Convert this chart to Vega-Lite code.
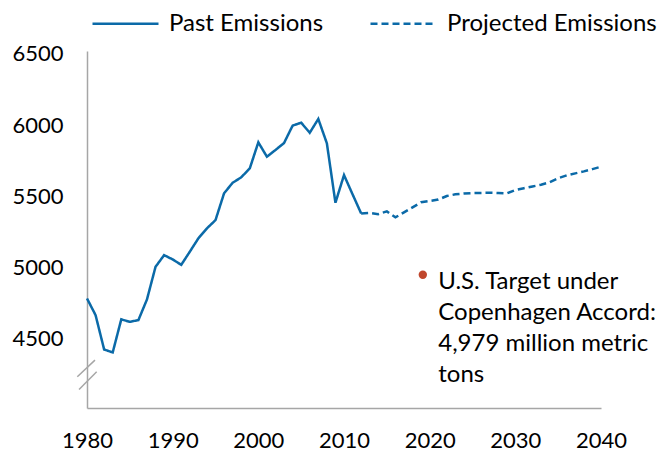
{
  "$schema": "https://vega.github.io/schema/vega-lite/v6.json",
  "width": 514,
  "height": 357,
  "autosize": "none",
  "padding": {"left": 87, "top": 51, "right": 63, "bottom": 47},
  "background": "white",
  "config": {
    "view": {"stroke": null},
    "font": "Lato",
    "axis": {"grid": false, "ticks": false, "labelFlush": false, "labelOverlap": false, "domainColor": "#a6a6a6", "domainWidth": 1.5, "labelFont": "Lato", "labelFontSize": 22, "labelColor": "#000000", "title": null}
  },
  "datasets": {
    "emissions": [
      {"year": 1980, "value": 4784, "series": "Past Emissions"},
      {"year": 1981, "value": 4667, "series": "Past Emissions"},
      {"year": 1982, "value": 4426, "series": "Past Emissions"},
      {"year": 1983, "value": 4405, "series": "Past Emissions"},
      {"year": 1984, "value": 4637, "series": "Past Emissions"},
      {"year": 1985, "value": 4620, "series": "Past Emissions"},
      {"year": 1986, "value": 4632, "series": "Past Emissions"},
      {"year": 1987, "value": 4777, "series": "Past Emissions"},
      {"year": 1988, "value": 5006, "series": "Past Emissions"},
      {"year": 1989, "value": 5088, "series": "Past Emissions"},
      {"year": 1990, "value": 5058, "series": "Past Emissions"},
      {"year": 1991, "value": 5020, "series": "Past Emissions"},
      {"year": 1992, "value": 5112, "series": "Past Emissions"},
      {"year": 1993, "value": 5206, "series": "Past Emissions"},
      {"year": 1994, "value": 5276, "series": "Past Emissions"},
      {"year": 1995, "value": 5334, "series": "Past Emissions"},
      {"year": 1996, "value": 5522, "series": "Past Emissions"},
      {"year": 1997, "value": 5596, "series": "Past Emissions"},
      {"year": 1998, "value": 5634, "series": "Past Emissions"},
      {"year": 1999, "value": 5697, "series": "Past Emissions"},
      {"year": 2000, "value": 5880, "series": "Past Emissions"},
      {"year": 2001, "value": 5779, "series": "Past Emissions"},
      {"year": 2002, "value": 5826, "series": "Past Emissions"},
      {"year": 2003, "value": 5875, "series": "Past Emissions"},
      {"year": 2004, "value": 5997, "series": "Past Emissions"},
      {"year": 2005, "value": 6018, "series": "Past Emissions"},
      {"year": 2006, "value": 5947, "series": "Past Emissions"},
      {"year": 2007, "value": 6044, "series": "Past Emissions"},
      {"year": 2008, "value": 5873, "series": "Past Emissions"},
      {"year": 2009, "value": 5456, "series": "Past Emissions"},
      {"year": 2010, "value": 5650, "series": "Past Emissions"},
      {"year": 2011, "value": 5515, "series": "Past Emissions"},
      {"year": 2012, "value": 5381, "series": "Past Emissions"},
      {"year": 2012, "value": 5381, "series": "Projected Emissions"},
      {"year": 2013, "value": 5384, "series": "Projected Emissions"},
      {"year": 2014, "value": 5376, "series": "Projected Emissions"},
      {"year": 2015, "value": 5395, "series": "Projected Emissions"},
      {"year": 2016, "value": 5353, "series": "Projected Emissions"},
      {"year": 2017, "value": 5388, "series": "Projected Emissions"},
      {"year": 2018, "value": 5423, "series": "Projected Emissions"},
      {"year": 2019, "value": 5459, "series": "Projected Emissions"},
      {"year": 2020, "value": 5468, "series": "Projected Emissions"},
      {"year": 2021, "value": 5478, "series": "Projected Emissions"},
      {"year": 2022, "value": 5503, "series": "Projected Emissions"},
      {"year": 2023, "value": 5515, "series": "Projected Emissions"},
      {"year": 2024, "value": 5521, "series": "Projected Emissions"},
      {"year": 2025, "value": 5524, "series": "Projected Emissions"},
      {"year": 2026, "value": 5525, "series": "Projected Emissions"},
      {"year": 2027, "value": 5526, "series": "Projected Emissions"},
      {"year": 2028, "value": 5524, "series": "Projected Emissions"},
      {"year": 2029, "value": 5522, "series": "Projected Emissions"},
      {"year": 2030, "value": 5545, "series": "Projected Emissions"},
      {"year": 2031, "value": 5558, "series": "Projected Emissions"},
      {"year": 2032, "value": 5570, "series": "Projected Emissions"},
      {"year": 2033, "value": 5582, "series": "Projected Emissions"},
      {"year": 2034, "value": 5600, "series": "Projected Emissions"},
      {"year": 2035, "value": 5628, "series": "Projected Emissions"},
      {"year": 2036, "value": 5648, "series": "Projected Emissions"},
      {"year": 2037, "value": 5662, "series": "Projected Emissions"},
      {"year": 2038, "value": 5676, "series": "Projected Emissions"},
      {"year": 2039, "value": 5692, "series": "Projected Emissions"},
      {"year": 2040, "value": 5709, "series": "Projected Emissions"}
    ],
    "target": [
      {"year": 2019.2, "value": 4950, "label": "U.S. Target under\nCopenhagen Accord:\n4,979 million metric\ntons", "labelYear": 2021.0, "labelValue": 4850}
    ],
    "breaks": [
      {"x1": 1978.87, "y1": 4234, "x2": 1980.93, "y2": 4351},
      {"x1": 1979.07, "y1": 4145, "x2": 1981.13, "y2": 4269}
    ]
  },
  "layer": [
    {
      "data": {"name": "emissions"},
      "mark": {"type": "line", "color": "#0b6aa8", "strokeWidth": 2.5},
      "encoding": {
        "x": {"field": "year", "type": "quantitative", "scale": {"domain": [1980, 2040], "nice": false, "zero": false}, "axis": {"values": [1980, 1990, 2000, 2010, 2020, 2030, 2040], "format": "d", "labelPadding": 22}},
        "y": {"field": "value", "type": "quantitative", "scale": {"domain": [4015, 6521], "nice": false, "zero": false}, "axis": {"values": [4500, 5000, 5500, 6000, 6500], "format": "d", "labelPadding": 24}},
        "strokeDash": {
          "field": "series",
          "type": "nominal",
          "scale": {"domain": ["Past Emissions", "Projected Emissions"], "range": [[1, 0], [7, 4]]},
          "legend": {
            "title": null,
            "orient": "none",
            "legendX": 4,
            "legendY": -62,
            "direction": "horizontal",
            "symbolType": "stroke",
            "symbolSize": 4356,
            "symbolStrokeColor": "#0b6aa8",
            "symbolStrokeWidth": 2.5,
            "labelFont": "Lato",
            "labelFontSize": 24,
            "labelColor": "#000000",
            "labelOffset": 9,
            "labelLimit": 400,
            "columnPadding": 41
          }
        }
      }
    },
    {
      "data": {"name": "breaks"},
      "mark": {"type": "rule", "color": "#a6a6a6", "strokeWidth": 1.5, "clip": false},
      "encoding": {
        "x": {"field": "x1", "type": "quantitative"},
        "y": {"field": "y1", "type": "quantitative"},
        "x2": {"field": "x2"},
        "y2": {"field": "y2"}
      }
    },
    {
      "data": {"name": "target"},
      "mark": {"type": "point", "filled": true, "color": "#c0472d", "size": 70, "opacity": 1},
      "encoding": {
        "x": {"field": "year", "type": "quantitative"},
        "y": {"field": "value", "type": "quantitative"}
      }
    },
    {
      "data": {"name": "target"},
      "mark": {"type": "text", "align": "left", "baseline": "alphabetic", "font": "Lato", "fontSize": 24, "color": "#000000", "lineBreak": "\n", "lineHeight": 31},
      "encoding": {
        "x": {"field": "labelYear", "type": "quantitative"},
        "y": {"field": "labelValue", "type": "quantitative"},
        "text": {"field": "label"}
      }
    }
  ]
}
